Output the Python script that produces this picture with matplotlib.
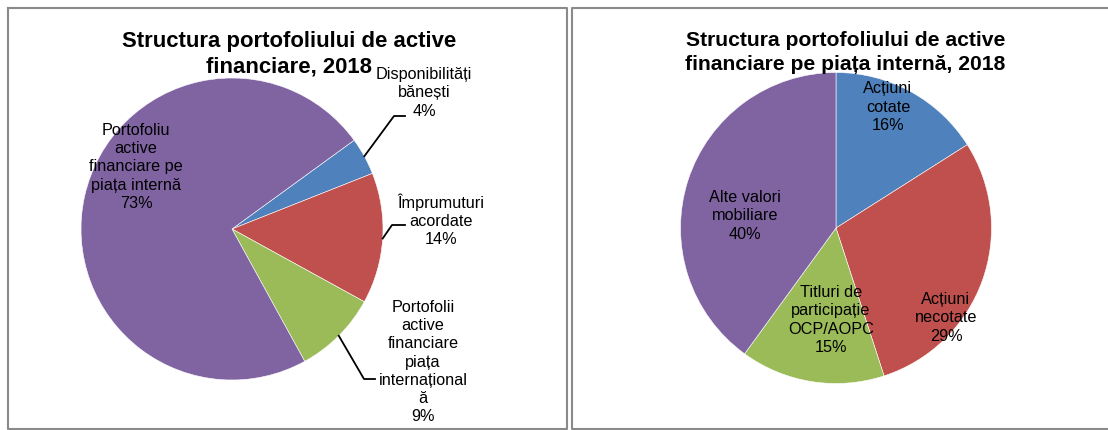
import numpy as np
import matplotlib
matplotlib.use("Agg")
import matplotlib.pyplot as plt

plt.rcParams["font.family"] = ["Liberation Sans", "DejaVu Sans"]

# Left chart: financial assets portfolio structure
left_title = ["Structura portofoliului de active", "financiare, 2018"]
left_labels = ["Disponibilități\nbănești", "Împrumuturi\nacordate",
               "Portofolii\nactive\nfinanciare\npiața\ninternațional\nă",
               "Portofoliu\nactive\nfinanciare pe\npiața internă"]
left_values = [4, 14, 9, 73]

# Right chart: domestic market portfolio structure
right_title = ["Structura portofoliului de active",
               "financiare pe piața internă, 2018"]
right_labels = ["Acțiuni\ncotate", "Acțiuni\nnecotate",
                "Titluri de\nparticipație\nOCP/AOPC", "Alte valori\nmobiliare"]
right_values = [16, 29, 15, 40]

colors = ["#4F81BD", "#C0504D", "#9BBB59", "#8064A2"]

W, H = 1108, 430
fig = plt.figure(figsize=(W / 100, H / 100), dpi=100)

# overlay in pixel coordinates for frames, titles, labels and leader lines
ov = fig.add_axes([0, 0, 1, 1], zorder=5)
ov.set_xlim(0, W)
ov.set_ylim(H, 0)
ov.axis("off")
ov.patch.set_alpha(0)

border = dict(color="#8a8a8a", lw=1.5, solid_capstyle="projecting")
# left panel frame
ov.plot([7.5, 567, 567, 7.5, 7.5], [7.5, 7.5, 428.5, 428.5, 7.5], **border)
# right panel frame (runs off the right edge)
ov.plot([W + 5, 572, 572, W + 5], [7.5, 7.5, 428.5, 428.5], **border)


def draw_pie(cx, cy, r, values, start):
    ax = fig.add_axes([(cx - r) / W, (H - cy - r) / H, 2 * r / W, 2 * r / H])
    wedges, _ = ax.pie(values, colors=colors, startangle=start, counterclock=False,
                       wedgeprops=dict(edgecolor="white", linewidth=0.4))
    ax.set_xlim(-1, 1)
    ax.set_ylim(-1, 1)
    ax.set_aspect("equal")
    ax.axis("off")
    return wedges


def edge_point(w, cx, cy, r):
    mid = np.deg2rad((w.theta1 + w.theta2) / 2)
    return cx + r * np.cos(mid), cy - r * np.sin(mid)


def draw_title(x, y0, lines, size, step):
    for i, line in enumerate(lines):
        ov.text(x, y0 + i * step, line, ha="center", va="center",
                fontsize=size, fontweight="bold", color="black")


label_kw = dict(ha="center", va="center", multialignment="center",
                fontsize=11.7, color="black", linespacing=1.27)

# ---- left pie
lcx, lcy, lr = 232, 229, 151
lw = draw_pie(lcx, lcy, lr, left_values, 36)
draw_title(289, 41, left_title, 15.9, 26)

left_text_pos = [(424, 93), (441, 220), (423, 362), (136, 167)]
left_elbows = [((394, 116), (405, 116)), ((392, 225), (405, 225)),
               ((364, 379), (375, 379)), None]
for w, lab, v, (tx, ty), elb in zip(lw, left_labels, left_values,
                                     left_text_pos, left_elbows):
    ov.text(tx, ty, f"{lab}\n{v}%", **label_kw)
    if elb is not None:
        sx, sy = edge_point(w, lcx, lcy, lr)
        ov.plot([sx, elb[0][0], elb[1][0]], [sy, elb[0][1], elb[1][1]],
                color="black", lw=1.3)

# ---- right pie
rcx, rcy, rr = 836, 228, 155.5
draw_pie(rcx, rcy, rr, right_values, 90)
draw_title(845.5, 40, right_title, 15.2, 25)

right_text_pos = [(888, 107), (946, 318), (831, 320), (745, 216)]
for lab, v, (tx, ty) in zip(right_labels, right_values, right_text_pos):
    ov.text(tx, ty, f"{lab}\n{v}%", **label_kw)

fig.savefig("out.png", dpi=100)
